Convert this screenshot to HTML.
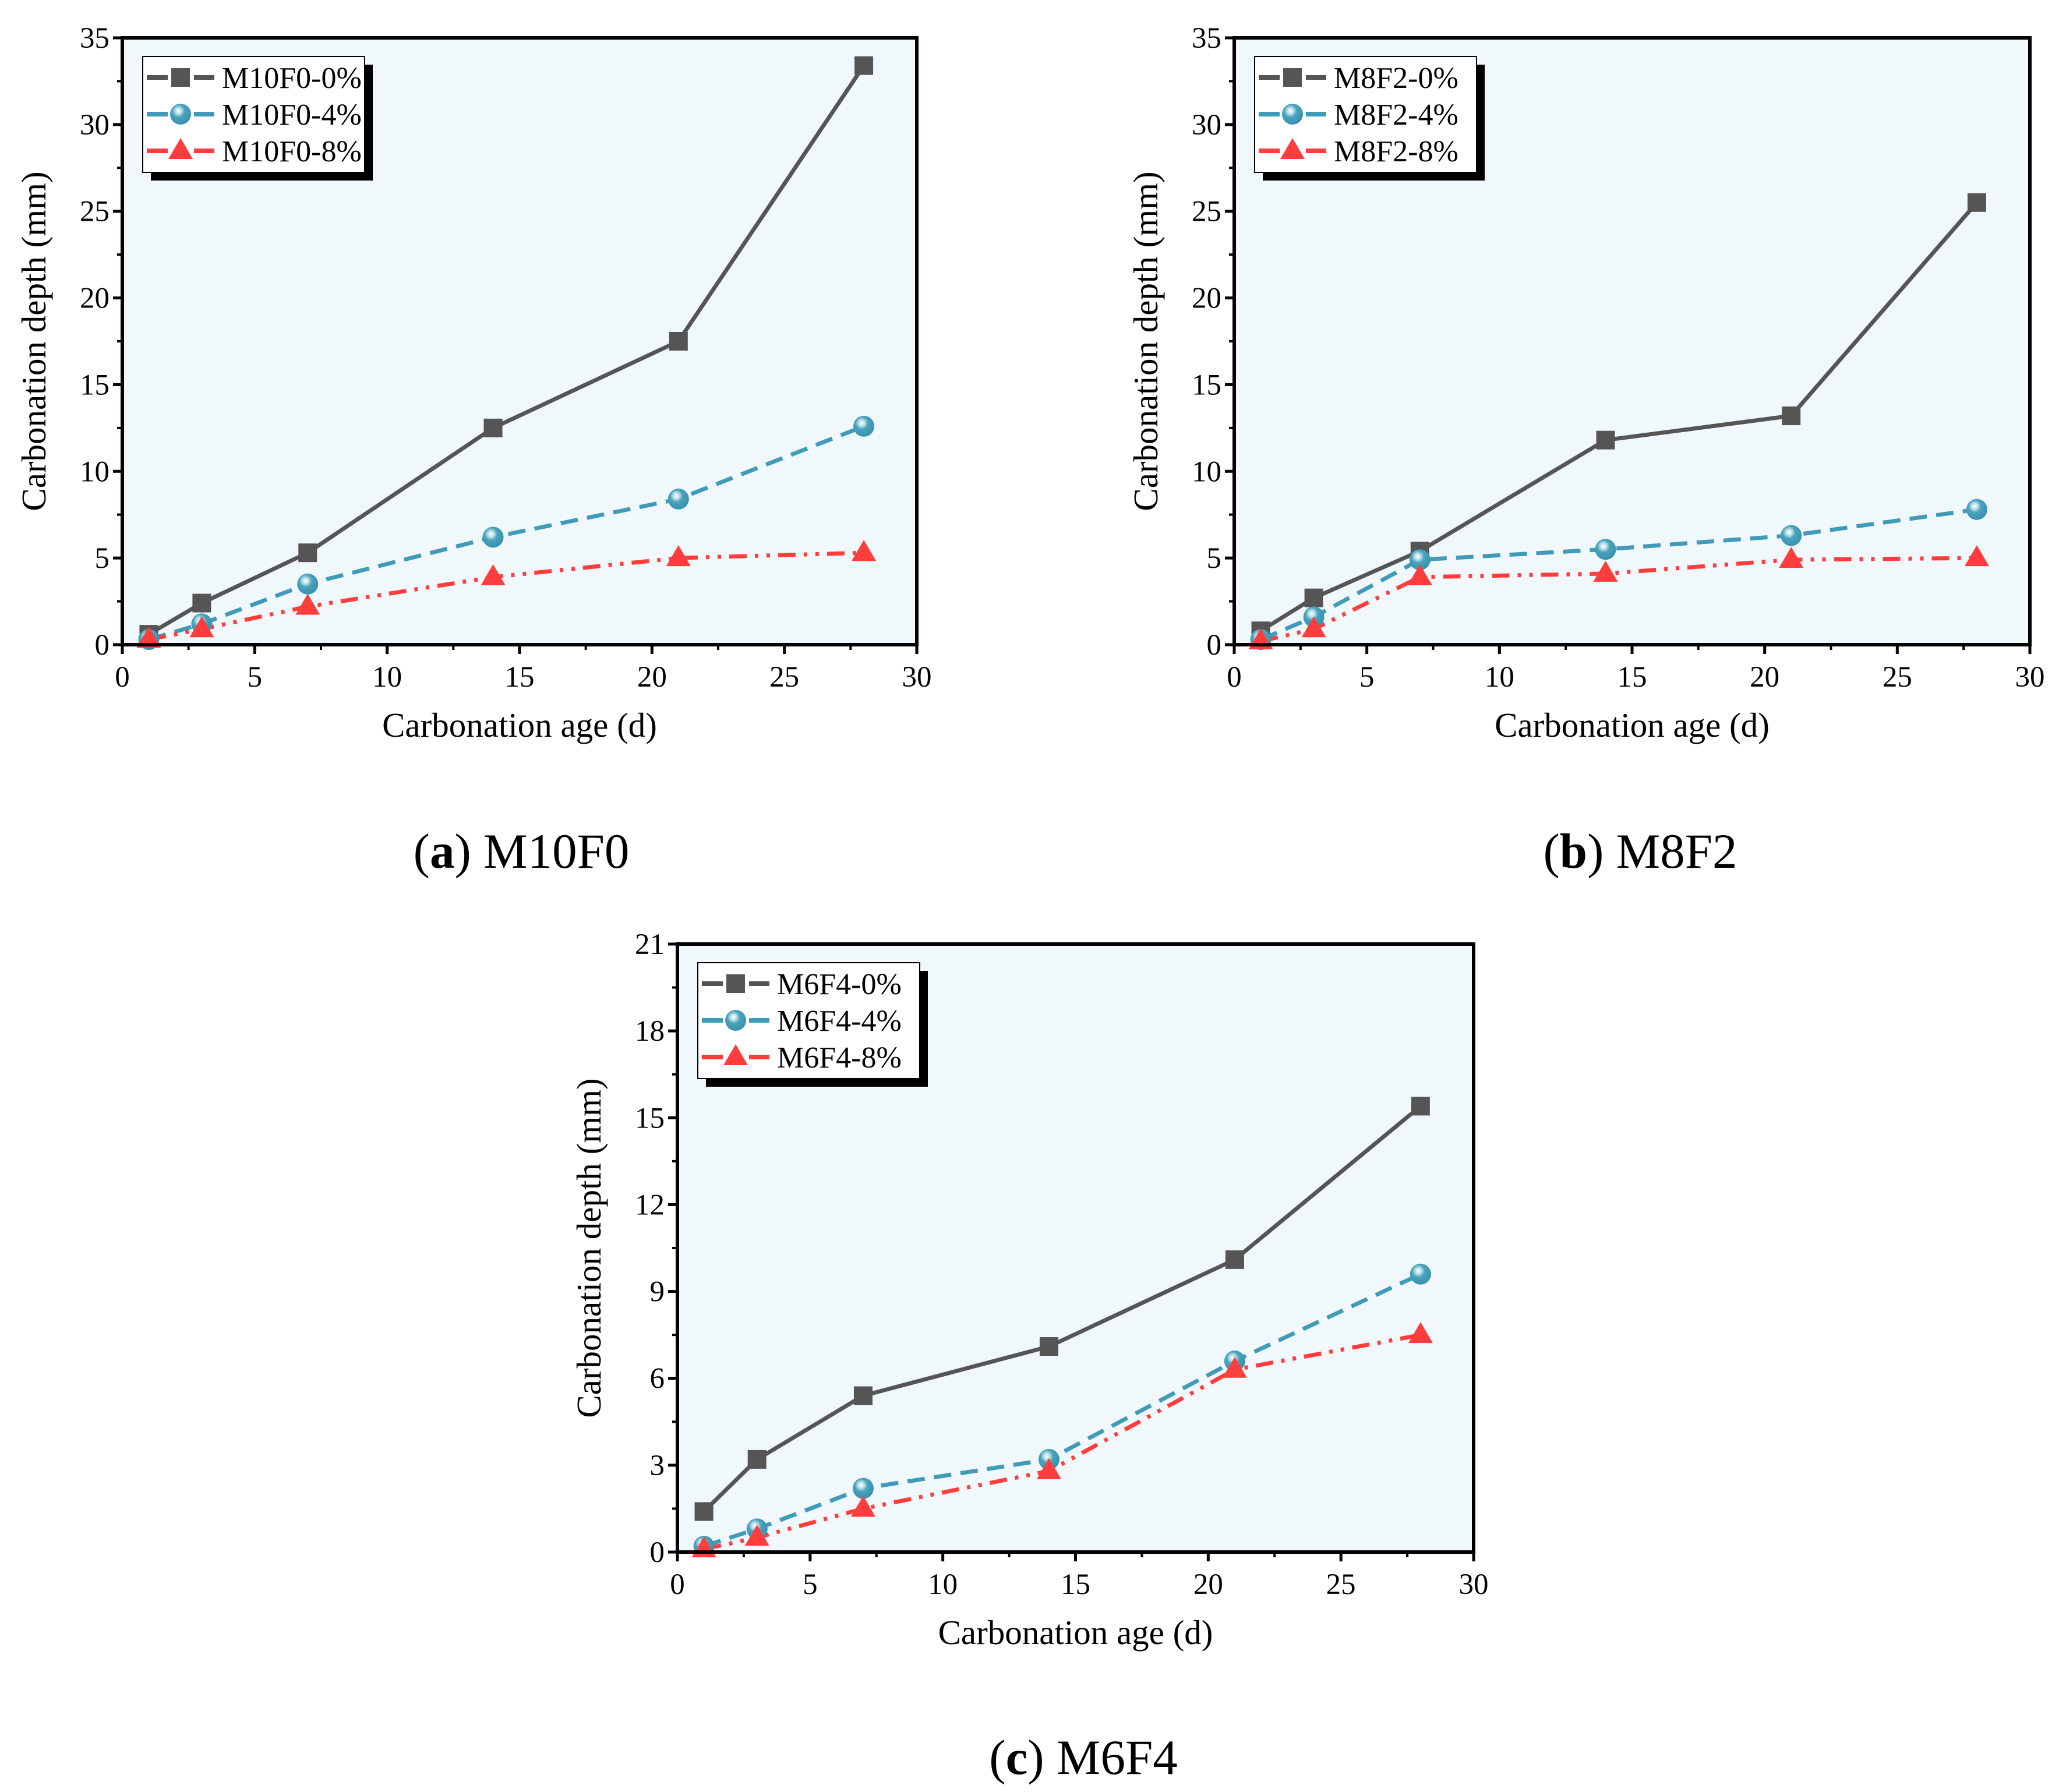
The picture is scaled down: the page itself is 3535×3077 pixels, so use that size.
<!DOCTYPE html>
<html><head><meta charset="utf-8"><style>
html,body{margin:0;padding:0;background:#fff}
svg{display:block}
text{font-family:"Liberation Serif",serif;fill:#000}
</style></head><body>
<svg id="s" width="3535" height="3077" viewBox="0 0 3535 3077" xmlns="http://www.w3.org/2000/svg">
<defs>
<radialGradient id="ball" cx="0.4" cy="0.35" r="0.6">
<stop offset="0" stop-color="#ffffff"/><stop offset="0.25" stop-color="#b9dfe9"/><stop offset="0.5" stop-color="#4aa2bd"/><stop offset="1" stop-color="#3a93b0"/>
</radialGradient>
</defs>
</svg>
<script>
const days = [1,3,7,14,21,28];
const aS0 = [0.6,2.4,5.3,12.5,17.5,33.4];
const aS4 = [0.3,1.2,3.5,6.2,8.4,12.6];
const aS8 = [0.3,0.9,2.2,3.9,5.0,5.3];
const bS0 = [0.8,2.7,5.4,11.8,13.2,25.5];
const bS4 = [0.3,1.6,4.9,5.5,6.3,7.8];
const bS8 = [0.2,0.9,3.9,4.1,4.9,5.0];
const cS0 = [1.4,3.2,5.4,7.1,10.1,15.4];
const cS4 = [0.2,0.8,2.2,3.2,6.6,9.6];
const cS8 = [0.1,0.5,1.5,2.8,6.3,7.5];
const xTicks = [0,5,10,15,20,25,30];
const yTicksAB = [0,5,10,15,20,25,30,35];
const yTicksC = [0,3,6,9,12,15,18,21];
const namesA = ['M10F0-0%','M10F0-4%','M10F0-8%'];
const namesB = ['M8F2-0%','M8F2-4%','M8F2-8%'];
const namesC = ['M6F4-0%','M6F4-4%','M6F4-8%'];

const svg = document.getElementById('s');
const NS = 'http://www.w3.org/2000/svg';
function mk(tag, attrs, parent){const e=document.createElementNS(NS,tag);for(const k in attrs)e.setAttribute(k,attrs[k]);(parent||svg).appendChild(e);return e;}
const colors=['#555555','#3f9bb8','#ff3d3d'];
const dashes=['none','30 16','30 14 6 14 6 14'];

function marker(g,type,x,y){
  let m;
  if(type===0) m=mk('rect',{x:x-16,y:y-16,width:32,height:32,fill:'#555555'},g);
  else if(type===1) m=mk('circle',{cx:x,cy:y,r:18,fill:'url(#ball)'},g);
  else m=mk('polygon',{points:`${x},${y-22} ${x+21},${y+14} ${x-21},${y+14}`,fill:'#ff3d3d'},g);
  
  
}

function chart(id,L,R,T,B,yTicks,yMax,series,names,title,tcx,tcy){
  const g=mk('g',{});
  
  
  const sx=v=>L+(R-L)*v/30, sy=v=>B-(B-T)*v/yMax;
  const bg=mk('rect',{x:L,y:T,width:R-L,height:B-T,fill:'#f1f8fc'},g);
  
  
  const step=xTicks[1]-xTicks[0];
  xTicks.forEach((v,i)=>{
    mk('line',{x1:sx(v),x2:sx(v),y1:B,y2:B+16,stroke:'#000','stroke-width':5},g);
    if(i<xTicks.length-1) mk('line',{x1:sx(v+step/2),x2:sx(v+step/2),y1:B,y2:B+9,stroke:'#000','stroke-width':4},g);
    const t=mk('text',{x:sx(v),y:B+72,'font-size':51,'text-anchor':'middle'},g);t.textContent=v;
    
    
  });
  const ys=yTicks[1]-yTicks[0];
  yTicks.forEach((v,i)=>{
    mk('line',{x1:L-16,x2:L,y1:sy(v),y2:sy(v),stroke:'#000','stroke-width':5},g);
    if(i<yTicks.length-1) mk('line',{x1:L-9,x2:L,y1:sy(v+ys/2),y2:sy(v+ys/2),stroke:'#000','stroke-width':4},g);
    const t=mk('text',{x:L-22,y:sy(v)+17,'font-size':51,'text-anchor':'end'},g);t.textContent=v;
    
    
  });
  series.forEach((s,k)=>{
    const sg=mk('g',{},g);
    
    
    const pts=days.map((d,i)=>sx(d)+','+sy(s[i])).join(' ');
    const pl=mk('polyline',{points:pts,fill:'none',stroke:colors[k],'stroke-width':7,'stroke-dasharray':dashes[k]},sg);
    
    
  });
  series.forEach((s,k)=>{days.forEach((d,i)=>marker(g,k,sx(d),sy(s[i])));});
  const fr=mk('rect',{x:L,y:T,width:R-L,height:B-T,fill:'none',stroke:'#000','stroke-width':6},g);
  
  
  const lx=L+35, ly=T+32, lw=381, lh=199;
  const lg=mk('g',{},g);
  
  
  mk('rect',{x:lx+14,y:ly+14,width:lw,height:lh,fill:'#000'},lg);
  mk('rect',{x:lx,y:ly,width:lw,height:lh,fill:'#fff',stroke:'#000','stroke-width':2},lg);
  names.forEach((n,k)=>{
    const yy=ly+36+k*63;
    const e=mk('g',{},lg);
    
    
    mk('line',{x1:lx+7,x2:lx+43,y1:yy,y2:yy,stroke:colors[k],'stroke-width':8},e);
    mk('line',{x1:lx+88,x2:lx+123,y1:yy,y2:yy,stroke:colors[k],'stroke-width':8},e);
    marker(e,k,lx+65,yy);
    const t=mk('text',{x:lx+136,y:yy+18,'font-size':52},e);t.textContent=n;
  });
  const xt=mk('text',{x:(L+R)/2,y:B+158,'font-size':59,'text-anchor':'middle'},g);xt.textContent='Carbonation age (d)';
  
  
  const yt=mk('text',{x:0,y:0,'font-size':59,'text-anchor':'middle',transform:`translate(${L-132},${(T+B)/2}) rotate(-90)`},g);yt.textContent='Carbonation depth (mm)';
  
  
  const tt=mk('text',{x:tcx,y:tcy,'font-size':85,'text-anchor':'middle'},g);
  tt.innerHTML='(<tspan font-weight="bold">'+title[0]+'</tspan>) '+title[1];
  
  
}
chart('a',210,1574,65,1107,yTicksAB,35,[aS0,aS4,aS8],namesA,['a','M10F0'],895,1490);
chart('b',2119,3485,65,1107,yTicksAB,35,[bS0,bS4,bS8],namesB,['b','M8F2'],2816,1490);
chart('c',1163,2530,1621,2665,yTicksC,21,[cS0,cS4,cS8],namesC,['c','M6F4'],1860,3046);
</script>
</body></html>
